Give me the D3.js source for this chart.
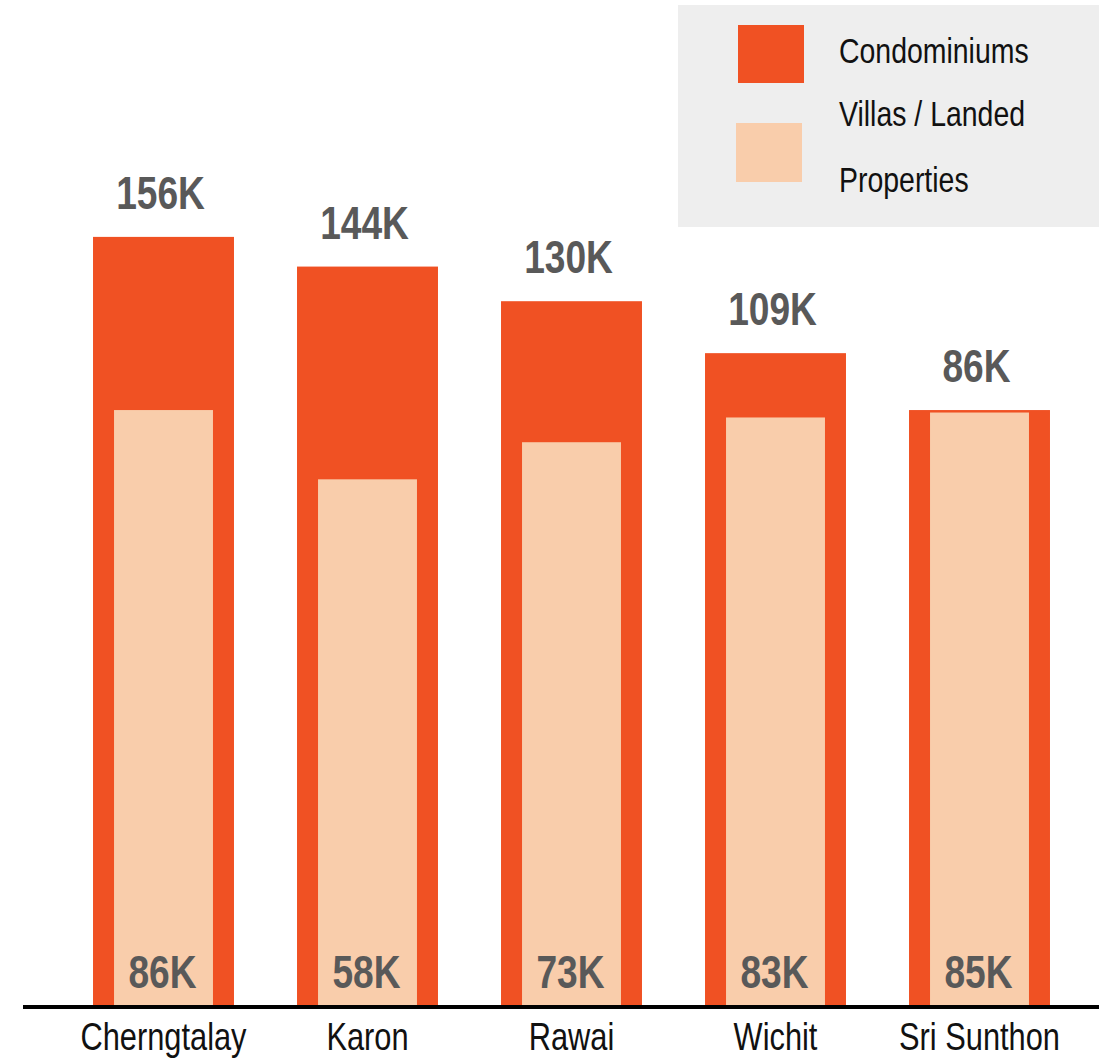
<!DOCTYPE html>
<html>
<head>
<meta charset="utf-8">
<script src="https://cdn.jsdelivr.net/npm/d3@7"></script>
<style>
  body { margin: 0; background: #ffffff; }
  svg { display: block; font-family: "Liberation Sans", Arial, sans-serif; }
</style>
</head>
<body>
<svg id="chart" width="1099" height="1058"></svg>
<script>
// DATA
var areas = ["Cherngtalay", "Karon", "Rawai", "Wichit", "Sri Sunthon"];
var condo_values = [156, 144, 130, 109, 86];   // thousands
var villa_values = [86, 58, 73, 83, 85];       // thousands
var legend_labels = ["Condominiums", "Villas / Landed", "Properties"];

// colours
var condo_colour = "#f05123";
var villa_colour = "#f9cdab";
var label_colour = "#595959";

// narrow font emulation (no condensed font installed)
var squeeze = 0.79;

var svg = d3.select("#chart");

// SVG dimensions
var baseline_y = 1005;

var xScale = d3.scaleBand()
  .domain(areas)
  .range([61.5, 1081.5])
  .paddingInner(0.309)
  .paddingOuter(0.1545);

// the chart does not start from zero, the fitted baseline is around -154.5K
var yScale = d3.scaleLinear()
  .domain([-154.5, 0])
  .range([baseline_y, 622.8]);

var rows = areas.map((a, i) => ({ area: a, condo: condo_values[i], villa: villa_values[i] }));

function place(x, y) {
  return "translate(" + x + "," + y + ") scale(" + squeeze + ",1)";
}

// outer bars (condominiums)
svg.selectAll("rect.condo")
  .data(rows)
  .enter().append("rect")
  .attr("class", "condo")
  .attr("x", d => xScale(d.area))
  .attr("y", d => yScale(d.condo))
  .attr("width", xScale.bandwidth())
  .attr("height", d => baseline_y - yScale(d.condo))
  .attr("fill", condo_colour);

// inner bars (villas)
var inner_offset = xScale.bandwidth() * 0.149;
var inner_width = xScale.bandwidth() * 0.702;

svg.selectAll("rect.villa")
  .data(rows)
  .enter().append("rect")
  .attr("class", "villa")
  .attr("x", d => xScale(d.area) + inner_offset)
  .attr("y", d => yScale(d.villa))
  .attr("width", inner_width)
  .attr("height", d => baseline_y - yScale(d.villa))
  .attr("fill", villa_colour);

// value labels
svg.selectAll("text.condo_value")
  .data(rows)
  .enter().append("text")
  .attr("class", "condo_value")
  .attr("transform", d => place(xScale(d.area) + xScale.bandwidth() / 2 - 3, yScale(d.condo) - 28))
  .attr("text-anchor", "middle")
  .attr("font-size", 47)
  .attr("font-weight", "bold")
  .attr("fill", label_colour)
  .text(d => d.condo + "K");

svg.selectAll("text.villa_value")
  .data(rows)
  .enter().append("text")
  .attr("class", "villa_value")
  .attr("transform", d => place(xScale(d.area) + xScale.bandwidth() / 2 - 1, 988))
  .attr("text-anchor", "middle")
  .attr("font-size", 47)
  .attr("font-weight", "bold")
  .attr("fill", label_colour)
  .text(d => d.villa + "K");

// x axis
var xAxis = d3.axisBottom(xScale).tickSize(0).tickPadding(0);
var axis_g = svg.append("g")
  .attr("transform", "translate(0," + baseline_y + ")")
  .call(xAxis);
axis_g.select(".domain").remove();
axis_g.attr("font-family", null).attr("font-size", null);
axis_g.selectAll("text")
  .attr("font-size", 39)
  .attr("fill", "#111111")
  .attr("dy", null)
  .attr("y", null)
  .attr("transform", place(0, 45));

svg.append("line")
  .attr("x1", 23)
  .attr("x2", 1099)
  .attr("y1", baseline_y + 2)
  .attr("y2", baseline_y + 2)
  .attr("stroke", "#000000")
  .attr("stroke-width", 4);

// LEGEND
var legend = svg.append("g");
legend.append("rect")
  .attr("x", 678).attr("y", 5)
  .attr("width", 421).attr("height", 222)
  .attr("fill", "#eeeeee");

legend.append("rect")
  .attr("x", 738).attr("y", 25)
  .attr("width", 66).attr("height", 58)
  .attr("fill", condo_colour);

legend.append("rect")
  .attr("x", 736).attr("y", 123)
  .attr("width", 66).attr("height", 59)
  .attr("fill", villa_colour);

var legend_y = [63, 126, 192];
legend.selectAll("text")
  .data(legend_labels)
  .enter().append("text")
  .attr("transform", (d, i) => place(839, legend_y[i]))
  .attr("font-size", 36)
  .attr("fill", "#111111")
  .text(d => d);
</script>
</body>
</html>
